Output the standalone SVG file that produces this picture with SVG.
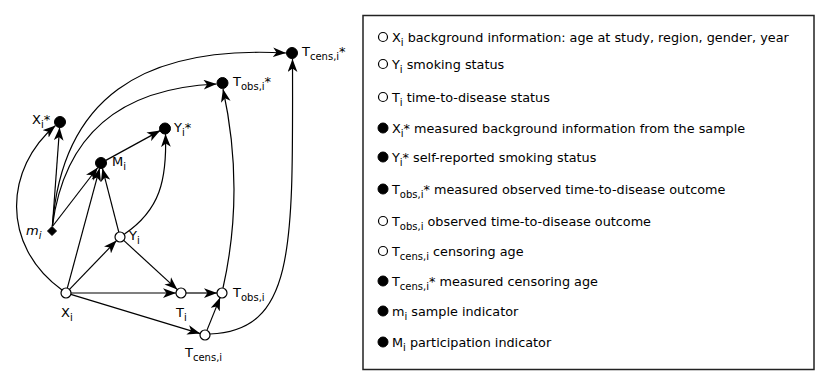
<svg xmlns="http://www.w3.org/2000/svg" width="830" height="386" viewBox="0 0 830 386">
<style>
text{font-family:"DejaVu Sans",Verdana,sans-serif;font-size:13px;fill:#000}
.lg{font-size:12.8px}
.sb{font-size:10px}
.e{fill:none;stroke:#000;stroke-width:1.2;marker-end:url(#ah)}
.o{fill:#fff;stroke:#000;stroke-width:1.2}
.f{fill:#000;stroke:#000;stroke-width:1}
</style>
<defs>
<marker id="ah" markerUnits="userSpaceOnUse" markerWidth="13" markerHeight="10" viewBox="0 0 12 9" refX="12" refY="4.5" orient="auto">
<path d="M0,0 L12,4.5 L0,9 L3.2,4.5 z" fill="#000"/>
</marker>
</defs>
<rect width="830" height="386" fill="#fff"/>
<g id="connectors">
<path class="e" d="M52.4,226 L59.6,127.5"/>
<path class="e" d="M52.4,226.5 L97.8,167.5"/>
<path class="e" d="M67.3,288.2 L99.6,168.3"/>
<path class="e" d="M118.8,232.2 L102.4,168.3"/>
<path class="e" d="M105.8,160.4 L160.2,130.6"/>
<path class="e" d="M69.5,289.4 L116.5,240.6"/>
<path class="e" d="M71,293 L176,293"/>
<path class="e" d="M123.7,240.4 L177.3,289.6"/>
<path class="e" d="M70.8,294.4 L200.2,333.6"/>
<path class="e" d="M186,293 L217,293"/>
<path class="e" d="M206.9,330.4 L220.1,297.6"/>
<path class="e" d="M62,290 C0,245 5,168 55.5,125.5"/>
<path class="e" d="M124.5,234 C160,210 167,180 165.5,134"/>
<path class="e" d="M210,334 C295,330 293,250 292.5,59"/>
<path class="e" d="M223,288 Q245,190 223,89"/>
<path class="e" d="M52.4,226 C65,130 125,88 216.6,84"/>
<path class="e" d="M52.4,226 C62,100 140,45 286,53"/>
</g>
<g id="node-Tcens-star"><circle class="f" cx="292" cy="53" r="5.5"/><text x="302" y="56">T<tspan class="sb" dy="4">cens,i</tspan><tspan dy="-4">*</tspan></text></g>
<g id="node-Tobs-star"><circle class="f" cx="222.5" cy="83" r="5.5"/><text x="233" y="86">T<tspan class="sb" dy="4">obs,i</tspan><tspan dy="-4">*</tspan></text></g>
<g id="node-X-star"><circle class="f" cx="60" cy="122" r="5.5"/><text x="32" y="124">X<tspan class="sb" dy="4">i</tspan><tspan dy="-4">*</tspan></text></g>
<g id="node-Y-star"><circle class="f" cx="165" cy="128.5" r="5.5"/><text x="174" y="132">Y<tspan class="sb" dy="4">i</tspan><tspan dy="-4">*</tspan></text></g>
<g id="node-M"><circle class="f" cx="101" cy="163" r="5.5"/><text x="112" y="166">M<tspan class="sb" dy="4">i</tspan></text></g>
<g id="node-m"><polygon points="52,226.5 56.5,231 52,235.5 47.5,231" fill="#000" stroke="#000" stroke-width="1"/><text x="26" y="235" font-style="italic">m<tspan class="sb" dy="4">i</tspan></text></g>
<g id="node-Y"><circle class="o" cx="120" cy="237" r="5"/><text x="129" y="240">Y<tspan class="sb" dy="4">i</tspan></text></g>
<g id="node-X"><circle class="o" cx="66" cy="293" r="5"/><text x="61" y="317">X<tspan class="sb" dy="4">i</tspan></text></g>
<g id="node-T"><circle class="o" cx="181" cy="293" r="5"/><text x="176" y="317">T<tspan class="sb" dy="4">i</tspan></text></g>
<g id="node-Tobs"><circle class="o" cx="222" cy="293" r="5"/><text x="233" y="297">T<tspan class="sb" dy="4">obs,i</tspan></text></g>
<g id="node-Tcens"><circle class="o" cx="205" cy="335" r="5"/><text x="185" y="357">T<tspan class="sb" dy="4">cens,i</tspan></text></g>
<g id="legend">
<rect x="363" y="15.5" width="451" height="354" fill="none" stroke="#222" stroke-width="1.5"/>
<circle class="o" cx="383" cy="37" r="4.5"/><text class="lg" x="392" y="42">X<tspan class="sb" dy="4">i</tspan><tspan dy="-4"> background information: age at study, region, gender, year</tspan></text>
<circle class="o" cx="383" cy="64" r="4.5"/><text class="lg" x="392" y="69">Y<tspan class="sb" dy="4">i</tspan><tspan dy="-4"> smoking status</tspan></text>
<circle class="o" cx="383" cy="97" r="4.5"/><text class="lg" x="392" y="102">T<tspan class="sb" dy="4">i</tspan><tspan dy="-4"> time-to-disease status</tspan></text>
<circle class="f" cx="383" cy="128" r="5"/><text class="lg" x="392" y="133">X<tspan class="sb" dy="4">i</tspan><tspan dy="-4">* measured background information from the sample</tspan></text>
<circle class="f" cx="383" cy="157" r="5"/><text class="lg" x="392" y="162">Y<tspan class="sb" dy="4">i</tspan><tspan dy="-4">* self-reported smoking status</tspan></text>
<circle class="f" cx="383" cy="189" r="5"/><text class="lg" x="392" y="194">T<tspan class="sb" dy="4">obs,i</tspan><tspan dy="-4">* measured observed time-to-disease outcome</tspan></text>
<circle class="o" cx="383" cy="221" r="4.5"/><text class="lg" x="392" y="226">T<tspan class="sb" dy="4">obs,i</tspan><tspan dy="-4"> observed time-to-disease outcome</tspan></text>
<circle class="o" cx="383" cy="251" r="4.5"/><text class="lg" x="392" y="256">T<tspan class="sb" dy="4">cens,i</tspan><tspan dy="-4"> censoring age</tspan></text>
<circle class="f" cx="383" cy="281" r="5"/><text class="lg" x="392" y="286">T<tspan class="sb" dy="4">cens,i</tspan><tspan dy="-4">* measured censoring age</tspan></text>
<circle class="f" cx="383" cy="311" r="5"/><text class="lg" x="392" y="316">m<tspan class="sb" dy="4">i</tspan><tspan dy="-4"> sample indicator</tspan></text>
<circle class="f" cx="383" cy="342" r="5"/><text class="lg" x="392" y="347">M<tspan class="sb" dy="4">i</tspan><tspan dy="-4"> participation indicator</tspan></text>
</g>
</svg>
